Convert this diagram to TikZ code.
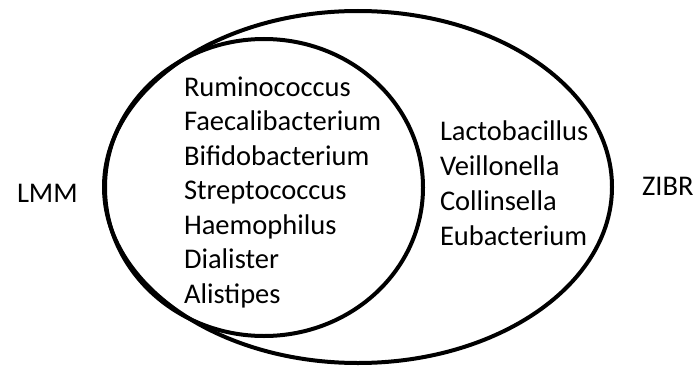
\documentclass[tikz,border=0pt]{standalone}
\usepackage{fontspec}
\setmainfont{Carlito}
\begin{document}
\begin{tikzpicture}[x=1pt, y=-1pt, line width=4pt,
  every node/.style={font=\fontsize{28.5}{34}\selectfont, inner sep=0pt, anchor=base west}]
  \useasboundingbox (0,0) rectangle (696,369);
  \coordinate (O) at (358,187); \coordinate (I) at (264,187.5);
  \draw (O) ellipse [x radius=254, y radius=176];
  \draw (I) ellipse [x radius=159, y radius=148.5];
  \foreach \g/\yy in {Ruminococcus/96,Faecalibacterium/130.5,Bifidobacterium/165,Streptococcus/199.5,Haemophilus/234,Dialister/268.5,Alistipes/303}
    \node (\g) at (182,\yy) {\g};
  \foreach \g/\yy in {Lactobacillus/140,Veillonella/175,Collinsella/210,Eubacterium/245}
    \node (\g) at (438,\yy) {\g};
  \node (lmm) at (15,202) {LMM};
  \node (zibr) at (640,195) {ZIBR};
\end{tikzpicture}
\end{document}
